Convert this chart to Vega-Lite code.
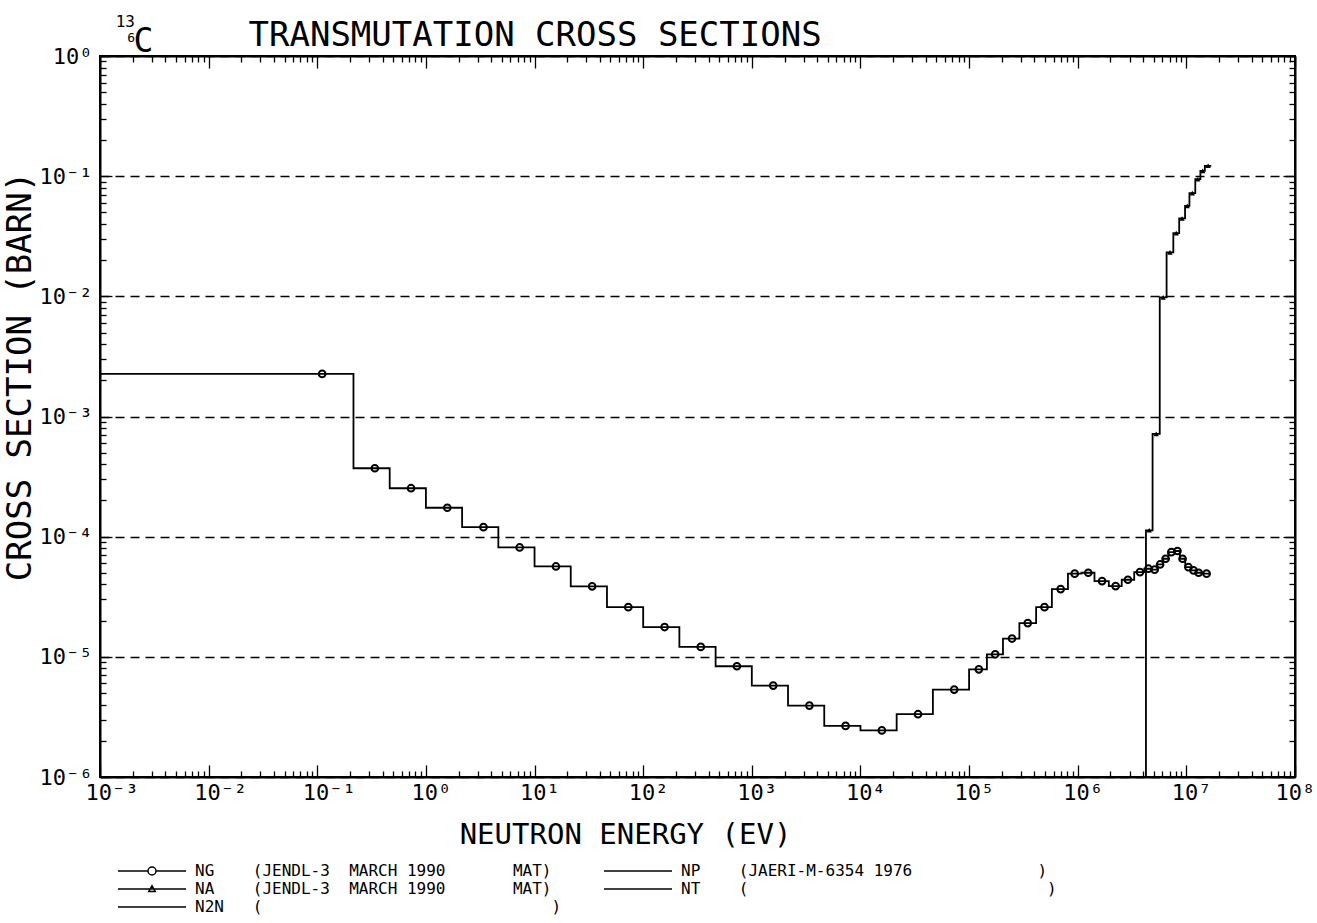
{
  "$schema": "https://vega.github.io/schema/vega-lite/v6.json",
  "autosize": "none",
  "width": 1195,
  "height": 721,
  "padding": {"left": 100, "top": 56, "right": 22, "bottom": 146},
  "background": "white",
  "title": {"text": "13", "subtitle": "6", "anchor": "start", "frame": "group", "align": "right", "dx": 35, "dy": 31, "font": "DejaVu Sans Mono", "fontSize": 16, "fontWeight": "normal", "subtitleFont": "DejaVu Sans Mono", "subtitleFontSize": 13, "subtitlePadding": 2, "color": "black", "subtitleColor": "black", "offset": 4},
  "datasets": {
    "ng_steps": [
      {"series": "NG", "E": 0.001, "sigma": 2.26e-3},
      {"series": "NG", "E": 0.2154, "sigma": 3.71e-4},
      {"series": "NG", "E": 0.4642, "sigma": 2.53e-4},
      {"series": "NG", "E": 1, "sigma": 1.74e-4},
      {"series": "NG", "E": 2.154, "sigma": 1.20e-4},
      {"series": "NG", "E": 4.642, "sigma": 8.13e-5},
      {"series": "NG", "E": 10, "sigma": 5.65e-5},
      {"series": "NG", "E": 21.54, "sigma": 3.86e-5},
      {"series": "NG", "E": 46.42, "sigma": 2.59e-5},
      {"series": "NG", "E": 100, "sigma": 1.77e-5},
      {"series": "NG", "E": 215.4, "sigma": 1.21e-5},
      {"series": "NG", "E": 464.2, "sigma": 8.35e-6},
      {"series": "NG", "E": 1000, "sigma": 5.76e-6},
      {"series": "NG", "E": 2154, "sigma": 3.93e-6},
      {"series": "NG", "E": 4642, "sigma": 2.66e-6},
      {"series": "NG", "E": 10000, "sigma": 2.44e-6},
      {"series": "NG", "E": 21540, "sigma": 3.33e-6},
      {"series": "NG", "E": 46420, "sigma": 5.34e-6},
      {"series": "NG", "E": 100000, "sigma": 7.87e-6},
      {"series": "NG", "E": 145900, "sigma": 1.05e-5},
      {"series": "NG", "E": 205100, "sigma": 1.42e-5},
      {"series": "NG", "E": 290400, "sigma": 1.91e-5},
      {"series": "NG", "E": 414000, "sigma": 2.59e-5},
      {"series": "NG", "E": 578100, "sigma": 3.66e-5},
      {"series": "NG", "E": 812800, "sigma": 4.92e-5},
      {"series": "NG", "E": 1084000, "sigma": 5.01e-5},
      {"series": "NG", "E": 1426000, "sigma": 4.27e-5},
      {"series": "NG", "E": 1932000, "sigma": 3.88e-5},
      {"series": "NG", "E": 2541000, "sigma": 4.38e-5},
      {"series": "NG", "E": 3311000, "sigma": 5.07e-5},
      {"series": "NG", "E": 4093000, "sigma": 5.41e-5},
      {"series": "NG", "E": 4786000, "sigma": 5.31e-5},
      {"series": "NG", "E": 5408000, "sigma": 5.87e-5},
      {"series": "NG", "E": 6067000, "sigma": 6.55e-5},
      {"series": "NG", "E": 6839000, "sigma": 7.43e-5},
      {"series": "NG", "E": 7762000, "sigma": 7.6e-5},
      {"series": "NG", "E": 8710000, "sigma": 6.55e-5},
      {"series": "NG", "E": 9772000, "sigma": 5.57e-5},
      {"series": "NG", "E": 10960000, "sigma": 5.24e-5},
      {"series": "NG", "E": 12300000, "sigma": 5.01e-5},
      {"series": "NG", "E": 14130000, "sigma": 4.92e-5},
      {"series": "NG", "E": 16600000, "sigma": 4.92e-5}
    ],
    "ng_marks": [
      {"E": 0.1109, "sigma": 2.26e-3},
      {"E": 0.3388, "sigma": 3.71e-4},
      {"E": 0.7295, "sigma": 2.53e-4},
      {"E": 1.574, "sigma": 1.74e-4},
      {"E": 3.388, "sigma": 1.20e-4},
      {"E": 7.295, "sigma": 8.13e-5},
      {"E": 15.74, "sigma": 5.65e-5},
      {"E": 33.88, "sigma": 3.86e-5},
      {"E": 72.95, "sigma": 2.59e-5},
      {"E": 157.4, "sigma": 1.77e-5},
      {"E": 338.8, "sigma": 1.21e-5},
      {"E": 729.5, "sigma": 8.35e-6},
      {"E": 1574, "sigma": 5.76e-6},
      {"E": 3388, "sigma": 3.93e-6},
      {"E": 7295, "sigma": 2.66e-6},
      {"E": 15740, "sigma": 2.44e-6},
      {"E": 33880, "sigma": 3.33e-6},
      {"E": 72950, "sigma": 5.34e-6},
      {"E": 123000, "sigma": 7.87e-6},
      {"E": 173800, "sigma": 1.05e-5},
      {"E": 248300, "sigma": 1.42e-5},
      {"E": 346700, "sigma": 1.91e-5},
      {"E": 494300, "sigma": 2.59e-5},
      {"E": 696600, "sigma": 3.66e-5},
      {"E": 937600, "sigma": 4.92e-5},
      {"E": 1250000, "sigma": 5.01e-5},
      {"E": 1675000, "sigma": 4.27e-5},
      {"E": 2234000, "sigma": 3.88e-5},
      {"E": 2897000, "sigma": 4.38e-5},
      {"E": 3741000, "sigma": 5.07e-5},
      {"E": 4477000, "sigma": 5.41e-5},
      {"E": 5105000, "sigma": 5.31e-5},
      {"E": 5728000, "sigma": 5.87e-5},
      {"E": 6442000, "sigma": 6.55e-5},
      {"E": 7278000, "sigma": 7.43e-5},
      {"E": 8279000, "sigma": 7.6e-5},
      {"E": 9226000, "sigma": 6.55e-5},
      {"E": 10450000, "sigma": 5.57e-5},
      {"E": 11640000, "sigma": 5.24e-5},
      {"E": 12970000, "sigma": 5.01e-5},
      {"E": 15350000, "sigma": 4.92e-5}
    ],
    "na_steps": [
      {"series": "NA", "E": 4240000, "sigma": 1e-8},
      {"series": "NA", "E": 4246000, "sigma": 1.13e-4},
      {"series": "NA", "E": 4887000, "sigma": 7.17e-4},
      {"series": "NA", "E": 5689000, "sigma": 9.8e-3},
      {"series": "NA", "E": 6577000, "sigma": 0.0232},
      {"series": "NA", "E": 7586000, "sigma": 0.0336},
      {"series": "NA", "E": 8590000, "sigma": 0.0445},
      {"series": "NA", "E": 9727000, "sigma": 0.0566},
      {"series": "NA", "E": 10670000, "sigma": 0.0722},
      {"series": "NA", "E": 12080000, "sigma": 0.0944},
      {"series": "NA", "E": 13460000, "sigma": 0.1107},
      {"series": "NA", "E": 14790000, "sigma": 0.122},
      {"series": "NA", "E": 16940000, "sigma": 0.122}
    ],
    "na_marks": [
      {"E": 4550000, "sigma": 1.13e-4},
      {"E": 5272000, "sigma": 7.17e-4},
      {"E": 6109000, "sigma": 9.8e-3},
      {"E": 7063000, "sigma": 0.0232},
      {"E": 8072000, "sigma": 0.0336},
      {"E": 9141000, "sigma": 0.0445},
      {"E": 10190000, "sigma": 0.0566},
      {"E": 11350000, "sigma": 0.0722},
      {"E": 12740000, "sigma": 0.0944},
      {"E": 14130000, "sigma": 0.1107},
      {"E": 15850000, "sigma": 0.122}
    ]
  },
  "resolve": {"axis": {"x": "independent", "y": "independent"}},
  "layer": [
    {
      "data": {"name": "ng_steps"},
      "mark": {"type": "line", "interpolate": "step-after", "strokeWidth": 1.8, "clip": true},
      "encoding": {
        "x": {"field": "E", "type": "quantitative",
          "scale": {"type": "log", "domain": [0.001, 100000000], "nice": false},
          "axis": {"orient": "bottom",
            "values": [1e-3,2e-3,3e-3,4e-3,5e-3,6e-3,7e-3,8e-3,9e-3,1e-2,2e-2,3e-2,4e-2,5e-2,6e-2,7e-2,8e-2,9e-2,1e-1,2e-1,3e-1,4e-1,5e-1,6e-1,7e-1,8e-1,9e-1,1,2,3,4,5,6,7,8,9,10,20,30,40,50,60,70,80,90,100,200,300,400,500,600,700,800,900,1000,2000,3000,4000,5000,6000,7000,8000,9000,1e4,2e4,3e4,4e4,5e4,6e4,7e4,8e4,9e4,1e5,2e5,3e5,4e5,5e5,6e5,7e5,8e5,9e5,1e6,2e6,3e6,4e6,5e6,6e6,7e6,8e6,9e6,1e7,2e7,3e7,4e7,5e7,6e7,7e7,8e7,9e7,1e8],
            "labelExpr": "abs(log(datum.value)/LN10 - round(log(datum.value)/LN10)) < 0.001 ? '10' + replace(replace(replace(replace(replace(replace(replace(replace(replace(replace(replace('' + round(log(datum.value)/LN10), '-', '⁻'), '0', '⁰'), '1', '¹'), '2', '²'), '3', '³'), '4', '⁴'), '5', '⁵'), '6', '⁶'), '7', '⁷'), '8', '⁸'), '9', '⁹') : ''",
            "tickSize": {"condition": {"test": "abs(log(datum.value)/LN10 - round(log(datum.value)/LN10)) < 0.001", "value": -12}, "value": -6},
            "labelAlign": "left", "labelOffset": {"condition": {"test": "datum.value > 50000000", "value": -20}, "value": -15}, "labelBaseline": "top", "labelPadding": 17,
            "grid": false,
            "title": "NEUTRON ENERGY (EV)", "titleFontSize": 29, "titleX": 525, "titleY": 66, "titleAlign": "center", "titleBaseline": "alphabetic", "titleAnchor": null}
        },
        "y": {"field": "sigma", "type": "quantitative",
          "scale": {"type": "log", "domain": [1e-6, 1], "nice": false},
          "axis": {"orient": "left",
            "values": [1e-6,2e-6,3e-6,4e-6,5e-6,6e-6,7e-6,8e-6,9e-6,1e-5,2e-5,3e-5,4e-5,5e-5,6e-5,7e-5,8e-5,9e-5,1e-4,2e-4,3e-4,4e-4,5e-4,6e-4,7e-4,8e-4,9e-4,1e-3,2e-3,3e-3,4e-3,5e-3,6e-3,7e-3,8e-3,9e-3,1e-2,2e-2,3e-2,4e-2,5e-2,6e-2,7e-2,8e-2,9e-2,1e-1,2e-1,3e-1,4e-1,5e-1,6e-1,7e-1,8e-1,9e-1,1],
            "labelExpr": "abs(log(datum.value)/LN10 - round(log(datum.value)/LN10)) < 0.001 ? '10' + replace(replace(replace(replace(replace(replace(replace(replace(replace(replace(replace('' + round(log(datum.value)/LN10), '-', '⁻'), '0', '⁰'), '1', '¹'), '2', '²'), '3', '³'), '4', '⁴'), '5', '⁵'), '6', '⁶'), '7', '⁷'), '8', '⁸'), '9', '⁹') : ''",
            "tickSize": {"condition": {"test": "abs(log(datum.value)/LN10 - round(log(datum.value)/LN10)) < 0.001", "value": -12}, "value": -6},
            "labelAlign": "right", "labelBaseline": "middle", "labelPadding": 20,
            "grid": true, "gridColor": "black", "gridWidth": 1.5, "gridDash": [9, 6],
            "gridOpacity": {"condition": {"test": "abs(log(datum.value)/LN10 - round(log(datum.value)/LN10)) < 0.001", "value": 1}, "value": 0},
            "title": "CROSS SECTION (BARN)", "titleFontSize": 34, "titleAngle": 270, "titleX": -80, "titleY": 320, "titleAlign": "center", "titleBaseline": "middle", "titleAnchor": null}
        },
        "color": {"field": "series", "type": "nominal",
          "scale": {"domain": ["NG", "NA", "N2N", "NP", "NT"], "range": ["black", "black", "black", "black", "black"]},
          "legend": {
            "orient": "none", "legendX": 18, "legendY": 806, "direction": "vertical", "columns": 2,
            "title": null, "symbolSize": 256, "symbolStrokeWidth": 1.5, "symbolStrokeColor": "black", "symbolOffset": 25,
            "labelFont": "DejaVu Sans Mono", "labelFontSize": 16, "labelColor": "black", "labelLimit": 800, "labelOffset": 34,
            "columnPadding": 39, "rowPadding": 1,
            "labelExpr": "datum.value == 'NG' ? 'NG\u00a0\u00a0\u00a0\u00a0(JENDL-3\u00a0\u00a0MARCH 1990\u00a0\u00a0\u00a0\u00a0\u00a0\u00a0\u00a0MAT)' : datum.value == 'NA' ? 'NA\u00a0\u00a0\u00a0\u00a0(JENDL-3\u00a0\u00a0MARCH 1990\u00a0\u00a0\u00a0\u00a0\u00a0\u00a0\u00a0MAT)' : datum.value == 'N2N' ? 'N2N\u00a0\u00a0\u00a0(\u00a0\u00a0\u00a0\u00a0\u00a0\u00a0\u00a0\u00a0\u00a0\u00a0\u00a0\u00a0\u00a0\u00a0\u00a0\u00a0\u00a0\u00a0\u00a0\u00a0\u00a0\u00a0\u00a0\u00a0\u00a0\u00a0\u00a0\u00a0\u00a0\u00a0)' : datum.value == 'NP' ? 'NP\u00a0\u00a0\u00a0\u00a0(JAERI-M-6354 1976\u00a0\u00a0\u00a0\u00a0\u00a0\u00a0\u00a0\u00a0\u00a0\u00a0\u00a0\u00a0\u00a0)' : 'NT\u00a0\u00a0\u00a0\u00a0(\u00a0\u00a0\u00a0\u00a0\u00a0\u00a0\u00a0\u00a0\u00a0\u00a0\u00a0\u00a0\u00a0\u00a0\u00a0\u00a0\u00a0\u00a0\u00a0\u00a0\u00a0\u00a0\u00a0\u00a0\u00a0\u00a0\u00a0\u00a0\u00a0\u00a0\u00a0)'",
            "encode": {"symbols": {"update": {"shape": {"signal": "datum.value == 'NG' ? 'M-4.25,0H-0.5M0.5,0H4.25M-0.5,0A0.5,0.5 0 1,1 0.5,0A0.5,0.5 0 1,1 -0.5,0' : datum.value == 'NA' ? 'M-4.25,0H4.25M-0.4,0.3L0,-0.4L0.4,0.3Z' : 'M-4.25,0H4.25'"}, "stroke": {"value": "black"}, "fill": {"value": "transparent"}}}}
          }
        }
      }
    },
    {
      "data": {"name": "ng_marks"},
      "mark": {"type": "point", "shape": "circle", "filled": false, "size": 45, "strokeWidth": 2, "color": "black", "opacity": 1},
      "encoding": {
        "x": {"field": "E", "type": "quantitative",
          "axis": {"orient": "top",
            "values": [1e-3,2e-3,3e-3,4e-3,5e-3,6e-3,7e-3,8e-3,9e-3,1e-2,2e-2,3e-2,4e-2,5e-2,6e-2,7e-2,8e-2,9e-2,1e-1,2e-1,3e-1,4e-1,5e-1,6e-1,7e-1,8e-1,9e-1,1,2,3,4,5,6,7,8,9,10,20,30,40,50,60,70,80,90,100,200,300,400,500,600,700,800,900,1000,2000,3000,4000,5000,6000,7000,8000,9000,1e4,2e4,3e4,4e4,5e4,6e4,7e4,8e4,9e4,1e5,2e5,3e5,4e5,5e5,6e5,7e5,8e5,9e5,1e6,2e6,3e6,4e6,5e6,6e6,7e6,8e6,9e6,1e7,2e7,3e7,4e7,5e7,6e7,7e7,8e7,9e7,1e8],
            "labels": false, "grid": false,
            "tickSize": {"condition": {"test": "abs(log(datum.value)/LN10 - round(log(datum.value)/LN10)) < 0.001", "value": -12}, "value": -6},
            "title": "TRANSMUTATION CROSS SECTIONS", "titleFontSize": 34, "titleX": 148, "titleY": -11, "titleAlign": "left", "titleBaseline": "alphabetic", "titleAnchor": null}
        },
        "y": {"field": "sigma", "type": "quantitative",
          "axis": {"orient": "right",
            "values": [1e-6,2e-6,3e-6,4e-6,5e-6,6e-6,7e-6,8e-6,9e-6,1e-5,2e-5,3e-5,4e-5,5e-5,6e-5,7e-5,8e-5,9e-5,1e-4,2e-4,3e-4,4e-4,5e-4,6e-4,7e-4,8e-4,9e-4,1e-3,2e-3,3e-3,4e-3,5e-3,6e-3,7e-3,8e-3,9e-3,1e-2,2e-2,3e-2,4e-2,5e-2,6e-2,7e-2,8e-2,9e-2,1e-1,2e-1,3e-1,4e-1,5e-1,6e-1,7e-1,8e-1,9e-1,1],
            "labels": false, "grid": false,
            "tickSize": {"condition": {"test": "abs(log(datum.value)/LN10 - round(log(datum.value)/LN10)) < 0.001", "value": -12}, "value": -6},
            "title": "C", "titleFontSize": 33, "titleAngle": 0, "titleX": -1152, "titleY": -5, "titleAlign": "center", "titleBaseline": "alphabetic", "titleAnchor": null}
        }
      }
    },
    {
      "data": {"name": "na_steps"},
      "mark": {"type": "line", "interpolate": "step-after", "strokeWidth": 1.8, "clip": true},
      "encoding": {
        "x": {"field": "E", "type": "quantitative", "axis": null},
        "y": {"field": "sigma", "type": "quantitative", "axis": null},
        "color": {"field": "series", "type": "nominal"}
      }
    },
    {
      "data": {"name": "na_marks"},
      "mark": {"type": "point", "shape": "triangle-up", "filled": true, "size": 28, "color": "black", "opacity": 1},
      "encoding": {
        "x": {"field": "E", "type": "quantitative", "axis": null},
        "y": {"field": "sigma", "type": "quantitative", "axis": null}
      }
    }
  ],
  "config": {
    "font": "DejaVu Sans Mono",
    "view": {"stroke": "black", "strokeWidth": 2},
    "axis": {"domainColor": "black", "domainWidth": 2, "tickColor": "black", "tickWidth": 1.3, "labelColor": "black", "labelFont": "DejaVu Sans Mono", "labelFontSize": 22, "titleColor": "black", "titleFont": "DejaVu Sans Mono", "titleFontWeight": "normal", "labelOverlap": false, "labelFlush": false}
  }
}
